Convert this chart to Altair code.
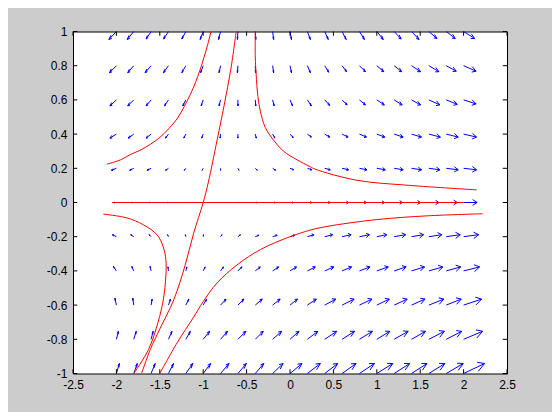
import altair as alt
import pandas as pd

# grid of the quiver plot
grid_x = [-2.0, -1.8, -1.6, -1.4, -1.2, -1.0, -0.8, -0.6, -0.4, -0.2, 0.0,
          0.2, 0.4, 0.6, 0.8, 1.0, 1.2, 1.4, 1.6, 1.8, 2.0]
grid_y = [1.0, 0.8, 0.6, 0.4, 0.2, 0.0, -0.2, -0.4, -0.6, -0.8, -1.0]

# arrow components (reference pixels: right / up positive)
u_rows = [
    [-7.5, -6.5, -5, -5, -4, -3, -2, -0.5, 0.5, 1, 1.5, 3, 3.5, 4, 5, 6.5, 7, 7.5, 8, 9, 11],
    [-7, -6, -6, -5, -4, -2.5, -1.5, -0.5, 0.3, 1, 1.5, 3, 4, 4.5, 6, 7, 7.5, 9, 10, 10, 12.5],
    [-6.5, -6, -5, -4, -3, -2, -1.5, 0, 0.5, 1.5, 2.5, 4, 5, 5, 6, 7.5, 8, 9, 11, 11, 12.5],
    [-6.5, -5.5, -5, -3, -2, -1.5, -0.5, 0, 1, 2.2, 3.2, 4, 5, 6, 7, 8, 9, 10, 11.5, 12, 13],
    [-5, -4, -4, -3, -1.5, -1, 0, 1, 2, 3, 3.5, 4.5, 5.5, 6.5, 7.5, 8.5, 9, 10, 11, 12, 13],
    [-3, -2.5, -2, -1.5, -0.5, 0, 0.8, 1.5, 2, 2.7, 3.5, 4.5, 5.5, 6.5, 7, 7.7, 8.3, 9, 10, 11, 13.5],
    [-4, -3, -2, -1, -0.5, 0.3, 1.5, 2.5, 3.5, 4.5, 5, 6.5, 8, 9, 10, 10, 11.5, 12, 13, 14, 15],
    [-3, -2, -1, -0.5, 1, 2, 3, 4, 5, 6, 6.5, 8, 9, 9.5, 10.5, 11.5, 12, 13, 14, 14.5, 16],
    [-1.5, -1, 1, 2, 3, 3.5, 5.5, 6, 7, 7.5, 7.5, 9, 11, 12, 12.5, 12.5, 13, 13.5, 15, 15, 18],
    [2, 2.5, 2, 3.5, 4.5, 6.5, 7, 8, 8, 9, 9, 10.5, 12, 12.5, 13, 13, 14, 14, 15.5, 15.5, 19],
    [3, 3.5, 4, 5, 7, 7.5, 8.5, 8.5, 8.5, 10.5, 12, 13, 13, 14, 15, 16, 15.5, 15.5, 16, 17, 21],
]
v_rows = [
    [-8, -8, -7.5, -7.5, -7.5, -8, -8, -8, -8, -8, -8, -8, -8, -8, -8, -8, -7.5, -8, -7, -7, -7],
    [-7, -7, -7, -7, -7, -7, -7, -7, -7, -7, -7, -7, -6.5, -6, -6, -6, -6, -6, -6, -5.5, -5.5],
    [-6, -6, -6, -6, -6, -6, -6, -6, -6, -6, -6, -6, -5.5, -5, -5, -5, -5, -5, -5, -4.5, -4],
    [-4, -4, -4, -4, -4, -4, -4, -4, -4, -4, -3.5, -3, -3, -3, -3, -3, -3, -3, -3, -3, -3],
    [-2, -2, -2, -2, -2, -2, -2, -2, -2, -2, -1.5, -1.5, -1.5, -1.5, -1.5, -1.5, -1.5, -1.5, -1.5, -1.5, -1.5],
    [0, 0, 0, 0, 0, 0, 0, 0, 0, 0, 0, 0, 0, 0, 0, 0, 0, 0, 0, 0, 0],
    [2, 2, 2, 2, 2, 2, 2, 2, 1.5, 1.5, 1.5, 2, 2, 2, 2, 2, 2, 2, 2, 2, 2],
    [4.5, 4.5, 4.5, 4, 4, 4, 4, 4, 4, 4, 4, 4, 4, 4, 4, 4, 4, 4, 4, 4, 4],
    [7, 7, 6, 6, 6, 6, 6, 6, 6, 6, 6, 6, 6, 6, 6, 6, 6, 6, 6, 6, 6],
    [8, 8, 8, 8, 8, 8, 8, 8, 8, 8, 8, 8, 8, 8, 8, 8, 8, 8, 8, 8, 8],
    [10, 10, 10, 10, 10, 10, 10, 10, 10, 10, 10, 10, 10, 10, 10, 10, 10, 10, 10, 10, 10],
]

# red trajectories (x, y)
curve_upper_left = [(-2.11, 0.224), (-1.95, 0.25), (-1.84, 0.28), (-1.73, 0.305), (-1.61, 0.34),
                    (-1.5, 0.38), (-1.4, 0.43), (-1.3, 0.49), (-1.22, 0.56), (-1.15, 0.63),
                    (-1.09, 0.70), (-1.04, 0.77), (-0.99, 0.85), (-0.95, 0.92), (-0.91, 1.0)]
curve_steep = [(-1.71, -1.0), (-1.61, -0.86), (-1.5, -0.74), (-1.34, -0.57), (-1.21, -0.37),
               (-1.11, -0.18), (-1.0, 0.0), (-0.94, 0.12), (-0.84, 0.365), (-0.76, 0.565),
               (-0.68, 0.785), (-0.62, 1.0)]
curve_lower_left = [(-2.15, -0.068), (-1.88, -0.09), (-1.69, -0.13), (-1.53, -0.19), (-1.46, -0.26),
                    (-1.43, -0.335), (-1.43, -0.43), (-1.46, -0.57), (-1.52, -0.7), (-1.63, -0.86),
                    (-1.8, -1.0)]
curve_lower_right = [(-1.5, -1.0), (-1.3, -0.82), (-1.11, -0.67), (-1.0, -0.58), (-0.84, -0.47),
                     (-0.61, -0.365), (-0.34, -0.275), (0.0, -0.2), (0.23, -0.162),
                     (0.425, -0.14), (1.0, -0.10), (1.58, -0.078), (2.22, -0.066)]
curve_upper_right = [(-0.40, 1.0), (-0.40, 0.85), (-0.39, 0.75), (-0.37, 0.62), (-0.34, 0.53),
                     (-0.286, 0.44), (-0.19, 0.365), (-0.075, 0.30), (0.08, 0.25), (0.23, 0.21),
                     (0.29, 0.195), (0.77, 0.13), (1.38, 0.10), (2.15, 0.074)]
curve_axis = [(-2.05, 0.0), (2.0, 0.0)]

x_ticks = [-2.5, -2.0, -1.5, -1.0, -0.5, 0.0, 0.5, 1.0, 1.5, 2.0, 2.5]
y_ticks = [-1.0, -0.8, -0.6, -0.4, -0.2, 0.0, 0.2, 0.4, 0.6, 0.8, 1.0]

# ---------------------------------------------------------------------------
W, H = 434, 342
PX_X, PX_Y = 86.8, 171.2   # reference pixels per data unit
ALPHA, BETA = 0.33, 0.33    # MATLAB quiver arrow head proportions

segs = []
for j, yy in enumerate(grid_y):
    for i, xx in enumerate(grid_x):
        U = u_rows[j][i] / PX_X
        V = v_rows[j][i] / PX_Y
        tx, ty = xx + U, yy + V
        segs.append(dict(x=xx, y=yy, x2=tx, y2=ty))
        segs.append(dict(x=tx - ALPHA * (U + BETA * V), y=ty - ALPHA * (V - BETA * U), x2=tx, y2=ty))
        segs.append(dict(x=tx - ALPHA * (U - BETA * V), y=ty - ALPHA * (V + BETA * U), x2=tx, y2=ty))
seg_df = pd.DataFrame(segs)

rows = []
for name, pts in [("ul", curve_upper_left), ("steep", curve_steep), ("ll", curve_lower_left),
                  ("lr", curve_lower_right), ("ur", curve_upper_right), ("axis", curve_axis)]:
    for k, (px, py) in enumerate(pts):
        rows.append(dict(curve=name, i=k, x=px, y=py))
curve_df = pd.DataFrame(rows)

xscale = alt.Scale(domain=[-2.5, 2.5], nice=False, zero=False)
yscale = alt.Scale(domain=[-1, 1], nice=False, zero=False)
font = "Liberation Sans"
xaxis = alt.Axis(values=x_ticks, labelExpr="'' + datum.value", tickSize=0, domain=False,
                 grid=False, title=None, labelFont=font, labelFontSize=12, labelColor="black",
                 labelPadding=6, labelFlush=False, labelOverlap=False)
yaxis = alt.Axis(values=y_ticks, labelExpr="'' + datum.value", tickSize=0, domain=False,
                 grid=False, title=None, labelFont=font, labelFontSize=12, labelColor="black",
                 labelPadding=6, labelFlush=False, labelOverlap=False)

arrows = alt.Chart(seg_df).mark_rule(color="#0000ff", strokeWidth=1).encode(
    x=alt.X("x:Q", scale=xscale, axis=xaxis),
    y=alt.Y("y:Q", scale=yscale, axis=yaxis),
    x2="x2:Q", y2="y2:Q",
)

curves = alt.Chart(curve_df).mark_line(color="#ff0000", strokeWidth=1, clip=True,
                                       interpolate="catmull-rom").encode(
    x=alt.X("x:Q", scale=xscale, axis=xaxis),
    y=alt.Y("y:Q", scale=yscale, axis=yaxis),
    detail="curve:N", order="i:Q",
)

TL = 4.3
xt_df = pd.DataFrame({"t": x_ticks})
yt_df = pd.DataFrame({"t": y_ticks})
xt_bottom = alt.Chart(xt_df).mark_rule(color="black", strokeWidth=1).encode(
    x=alt.X("t:Q", scale=xscale, axis=xaxis), y=alt.value(H), y2=alt.value(H - TL))
xt_top = alt.Chart(xt_df).mark_rule(color="black", strokeWidth=1).encode(
    x=alt.X("t:Q", scale=xscale, axis=xaxis), y=alt.value(0), y2=alt.value(TL))
yt_left = alt.Chart(yt_df).mark_rule(color="black", strokeWidth=1).encode(
    y=alt.Y("t:Q", scale=yscale, axis=yaxis), x=alt.value(0), x2=alt.value(TL))
yt_right = alt.Chart(yt_df).mark_rule(color="black", strokeWidth=1).encode(
    y=alt.Y("t:Q", scale=yscale, axis=yaxis), x=alt.value(W), x2=alt.value(W - TL))

chart = alt.layer(arrows, curves, xt_bottom, xt_top, yt_left, yt_right).properties(
    width=W, height=H,
    background="#cccccc",
    padding={"left": 65, "top": 23.5, "right": 45, "bottom": 38},
    autosize=alt.AutoSizeParams(type="none"),
).configure_view(
    fill="white", stroke="black", strokeWidth=1
)

chart.save("out.html", embed_options={"renderer": "svg", "actions": False})
